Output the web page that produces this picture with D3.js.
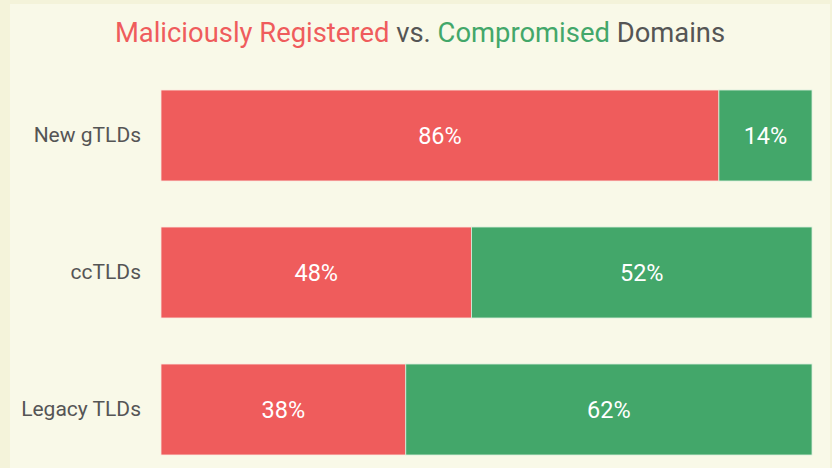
<!DOCTYPE html>
<html><head><meta charset="utf-8">
<script src="https://cdn.jsdelivr.net/npm/d3@7"></script>
<style>
html,body{margin:0;padding:0;background:#f4f3da;}
svg{display:block;}
</style></head>
<body>
<svg id="chart" width="832" height="468"></svg>
<script>
const categories = ["New gTLDs", "ccTLDs", "Legacy TLDs"];
const maliciousValues = [85.7, 47.7, 37.6];
const compromisedValues = [14.3, 52.3, 62.4];
const seriesNames = ["Maliciously Registered", "Compromised"];

const W = 832, H = 468;
const svg = d3.select("#chart");
const font = "Roboto, 'Noto Sans', sans-serif";
const red = "#ef5c5c", green = "#43a76a";
const pct = v => Math.round(v) + "%";

svg.append("rect").attr("x", 0).attr("y", 0).attr("width", W).attr("height", H).attr("fill", "#f4f3da");
svg.append("rect").attr("x", 10).attr("y", 4).attr("width", 820).attr("height", H - 4).attr("fill", "#f9f9e8");

const title = svg.append("text").attr("x", 420).attr("y", 42)
  .attr("text-anchor", "middle").attr("font-family", font).attr("font-size", 27.4).attr("fill", "#555");
title.append("tspan").attr("fill", red).text(seriesNames[0]);
title.append("tspan").attr("fill", "#555").text(" vs. ");
title.append("tspan").attr("fill", green).text(seriesNames[1]);
title.append("tspan").attr("fill", "#555").text(" Domains");

const x = d3.scaleLinear().domain([0, 100]).range([161, 812]);
const y = d3.scaleBand().domain(categories).range([67, 478]).paddingInner(0.336).paddingOuter(0.168);

const data = categories.map((c, i) => ({cat: c, m: maliciousValues[i], c2: compromisedValues[i]}));

const g = svg.append("g");
const rows = g.selectAll("g.row").data(data).enter().append("g").attr("class", "row");

rows.append("rect")
  .attr("x", x(0)).attr("y", d => y(d.cat))
  .attr("width", d => x(d.m) - x(0)).attr("height", y.bandwidth())
  .attr("fill", red).attr("stroke", "#fbe9df").attr("stroke-width", 0.8);
rows.append("rect")
  .attr("x", d => x(d.m)).attr("y", d => y(d.cat))
  .attr("width", d => x(d.m + d.c2) - x(d.m)).attr("height", y.bandwidth())
  .attr("fill", green).attr("stroke", "#d9eedb").attr("stroke-width", 0.8);

rows.append("text")
  .attr("x", d => (x(0) + x(d.m)) / 2).attr("y", d => y(d.cat) + y.bandwidth() / 2)
  .attr("dy", "0.36em").attr("text-anchor", "middle")
  .attr("font-family", font).attr("font-size", 23.5).attr("fill", "#fff")
  .text(d => pct(d.m));
rows.append("text")
  .attr("x", d => (x(d.m) + x(d.m + d.c2)) / 2).attr("y", d => y(d.cat) + y.bandwidth() / 2)
  .attr("dy", "0.36em").attr("text-anchor", "middle")
  .attr("font-family", font).attr("font-size", 23.5).attr("fill", "#fff")
  .text(d => pct(d.c2));

const axis = d3.axisLeft(y).tickSize(0).tickPadding(20);
const ag = svg.append("g").attr("transform", `translate(${x(0)},0)`).call(axis);
ag.select(".domain").remove();
ag.selectAll("text").attr("font-family", font).attr("font-size", 21).attr("fill", "#555");
</script>
</body></html>
